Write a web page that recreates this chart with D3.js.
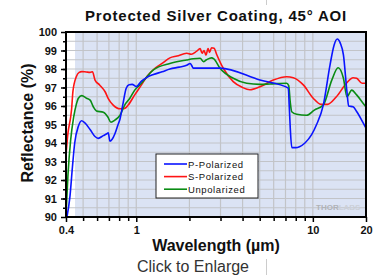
<!DOCTYPE html>
<html>
<meta charset="utf-8">
<script src="https://d3js.org/d3.v7.min.js"></script>
<style>
  body { margin: 0; background: #fff; font-family: "Liberation Sans", Arial, sans-serif; }
</style>
<body>
<div id="chart"></div>
<script>

// wavelength (um) / reflectance (%)
var pWl = [0.405,0.421,0.435,0.448,0.47,0.49,0.51,0.55,0.584,0.609,0.65,0.681,0.694,0.709,0.73,0.757,0.789,0.809,0.844,0.876,0.91,0.948,1.0,1.07,1.15,1.25,1.4,1.55,1.75,1.93,2.02,2.07,2.1,2.19,2.98,5.02,7.26,7.35,7.45,7.6,8.0,8.4,9.02,9.84,10.5,11.46,12.5,13.2,13.75,14.3,14.9,15.6,15.95,16.9,17.7,19,20];
var pR  = [90.0,91.1,92.7,94.0,94.9,95.2,95.1,94.7,94.35,94.25,94.4,94.5,94.55,94.1,94.2,94.5,95.0,95.3,96.2,96.95,97.15,97.17,97.05,97.35,97.55,97.7,97.85,98.0,98.1,98.2,98.3,98.15,98.05,98.05,98.05,97.4,96.97,96.0,94.8,93.75,93.75,93.8,94.0,94.45,95.0,96.05,98.2,99.3,99.62,99.4,98.76,96.77,96.0,95.96,95.7,95.2,94.8];

var sWl = [0.4,0.41,0.425,0.43,0.438,0.458,0.475,0.491,0.52,0.548,0.565,0.584,0.62,0.666,0.694,0.74,0.809,0.86,0.9,0.98,1.07,1.15,1.276,1.4,1.55,1.7,1.93,2.05,2.19,2.3,2.36,2.42,2.48,2.55,2.6,2.67,2.76,2.85,3.11,3.54,4.0,4.4,5.02,5.97,7.11,7.75,8.83,10.05,11.1,12.1,13.6,15.5,16.9,17.7,19,20];
var sR  = [93.35,94.5,95.4,95.8,96.8,97.6,97.82,97.86,97.84,97.82,97.85,97.4,97.14,96.77,96.4,96.05,95.85,95.87,96.05,96.6,97.14,97.6,98.04,98.3,98.6,98.7,98.85,98.8,98.95,99.1,98.85,99.0,98.75,99.1,98.9,99.15,99.12,98.8,98.04,97.32,97.0,96.88,97.04,97.4,97.58,97.53,97.14,96.42,96.09,96.09,96.5,97.23,97.53,97.5,97.23,97.23];

var uWl = [0.4,0.41,0.425,0.442,0.458,0.47,0.491,0.523,0.548,0.571,0.595,0.651,0.689,0.719,0.757,0.809,0.86,0.92,0.98,1.07,1.25,1.55,1.93,2.1,2.3,2.4,2.5,2.67,2.75,2.98,3.54,4.22,5.02,5.7,7.11,7.3,7.45,7.59,8.1,9.2,10.2,11.46,12.8,13.9,14.9,15.6,16.6,17.7,19.6,20];
var uR  = [90.1,92.2,94.16,95.4,96.1,96.42,96.56,96.42,96.32,95.96,95.73,95.66,95.42,95.12,95.24,95.5,96.05,96.42,96.86,97.23,97.95,98.3,98.49,98.55,98.58,98.4,98.5,98.6,98.55,98.04,97.5,97.23,97.17,97.19,97.23,97.1,96.2,95.69,95.55,95.5,95.78,96.05,97.4,98.07,97.5,96.5,96.86,96.6,96.05,95.95];

var seriesNames = ["P-Polarized", "S-Polarized", "Unpolarized"];
var seriesColors = ["#0a14ff", "#ff1414", "#0a8c14"];

var yMajor = [90,91,92,93,94,95,96,97,98,99,100];
var xLabels = [0.4, 1, 10, 20];
var xMinor = [0.5,0.6,0.7,0.8,0.9,2,3,4,5,6,7,8,9];

var margin = {top: 32, right: 17, bottom: 58, left: 66},
    width = 383 - margin.left - margin.right,
    height = 275 - margin.top - margin.bottom;

var root = d3.select("#chart")
  .append("svg")
    .attr("width", 383)
    .attr("height", 275);

var svg = root.append("g")
    .attr("transform", "translate(" + margin.left + "," + margin.top + ")");

var x = d3.scaleLog().domain([0.4, 20]).range([0, width]);
var y = d3.scaleLinear().domain([90, 100]).range([height, 0]);

// plot background
svg.append("rect")
  .attr("width", width).attr("height", height).attr("fill", "#fff");
svg.append("rect")
  .attr("x", x(0.45)).attr("width", width - x(0.45))
  .attr("height", height).attr("fill", "#dbe3f4");

// grid
var yGrid = d3.range(90.5, 100, 0.5);
svg.selectAll("hgrid").data(yGrid).enter().append("line")
  .attr("x1", 0).attr("x2", width)
  .attr("y1", function(d) { return y(d); }).attr("y2", function(d) { return y(d); })
  .attr("stroke", "#c2c4c8").attr("stroke-width", 1);
svg.selectAll("vgrid").data(xMinor.concat([1, 10])).enter().append("line")
  .attr("x1", function(d) { return x(d); }).attr("x2", function(d) { return x(d); })
  .attr("y1", 0).attr("y2", height)
  .attr("stroke", "#c2c4c8").attr("stroke-width", 1.2);

// watermark
var wm = svg.append("text")
  .attr("x", 250).attr("y", 178)
  .style("font-size", "8px").style("font-weight", "bold");
wm.append("tspan").attr("fill", "#b0b2b6").text("THOR");
wm.append("tspan").attr("fill", "#ccd0d8").text("LABS");

// curves
var clip = svg.append("clipPath").attr("id", "clip")
  .append("rect").attr("width", width).attr("height", height);

var line = d3.line()
  .x(function(d) { return x(d[0]); })
  .y(function(d) { return y(d[1]); })
  .curve(d3.curveMonotoneX);

var series = [
  d3.zip(pWl, pR),
  d3.zip(sWl, sR),
  d3.zip(uWl, uR)
];
[1, 2, 0].forEach(function(i) {
  svg.append("path")
    .datum(series[i])
    .attr("clip-path", "url(#clip)")
    .attr("fill", "none")
    .attr("stroke", seriesColors[i])
    .attr("stroke-width", 1.6)
    .attr("d", line);
});

// frame
svg.append("rect")
  .attr("width", width).attr("height", height)
  .attr("fill", "none").attr("stroke", "#000").attr("stroke-width", 2);

// axes
var yAxis = svg.append("g")
  .call(d3.axisLeft(y).tickValues(yMajor).tickSize(5).tickPadding(4).tickFormat(d3.format("d")));
var yMinorAxis = svg.append("g")
  .call(d3.axisLeft(y).tickValues(yGrid).tickSize(3).tickFormat(""));
var xAxis = svg.append("g")
  .attr("transform", "translate(0," + height + ")")
  .call(d3.axisBottom(x).tickValues(xLabels).tickSize(5).tickPadding(4).tickFormat(function(d) { return d; }));
var xMinorAxis = svg.append("g")
  .attr("transform", "translate(0," + height + ")")
  .call(d3.axisBottom(x).tickValues(xMinor).tickSize(4).tickFormat(""));

[yAxis, yMinorAxis, xAxis, xMinorAxis].forEach(function(a) {
  a.select(".domain").remove();
  a.selectAll("line").attr("stroke", "#000").attr("stroke-width", 1.5);
  a.selectAll("text")
    .style("font-family", "'Liberation Sans', Arial, sans-serif")
    .style("font-size", "11px")
    .style("font-weight", "bold")
    .attr("fill", "#111");
});

// legend
var lg = svg.append("g").attr("transform", "translate(" + (156 - margin.left) + "," + (154 - margin.top) + ")");
lg.append("rect")
  .attr("width", 102).attr("height", 44)
  .attr("fill", "#fff").attr("stroke", "#222").attr("stroke-width", 1);
seriesNames.forEach(function(n, i) {
  lg.append("line")
    .attr("x1", 8).attr("x2", 31)
    .attr("y1", 10 + i * 12.6).attr("y2", 10 + i * 12.6)
    .attr("stroke", seriesColors[i]).attr("stroke-width", 1.6);
  lg.append("text")
    .attr("x", 32).attr("y", 13.5 + i * 12.6)
    .style("font-size", "9.5px")
    .style("letter-spacing", "0.6px")
    .attr("fill", "#111")
    .text(n);
});

// titles
root.append("text")
  .attr("x", 216).attr("y", 21)
  .attr("text-anchor", "middle")
  .style("font-size", "15px").style("font-weight", "bold")
  .style("letter-spacing", "0.8px")
  .attr("fill", "#111")
  .text("Protected Silver Coating, 45° AOI");

root.append("text")
  .attr("x", 216).attr("y", 251)
  .attr("text-anchor", "middle")
  .style("font-size", "16px").style("font-weight", "bold")
  .attr("fill", "#111")
  .text("Wavelength (µm)");

root.append("text")
  .attr("transform", "translate(33,123)rotate(-90)")
  .attr("text-anchor", "middle")
  .style("font-size", "16px").style("font-weight", "bold")
  .attr("fill", "#111")
  .text("Reflectance (%)");

root.append("text")
  .attr("x", 193).attr("y", 272)
  .attr("text-anchor", "middle")
  .style("font-size", "16px")
  .attr("fill", "#333")
  .text("Click to Enlarge");

root.append("line")
  .attr("x1", 266.5).attr("x2", 266.5).attr("y1", 259).attr("y2", 275)
  .attr("stroke", "#ccc").attr("stroke-width", 1);
root.append("line")
  .attr("x1", 266.5).attr("x2", 266.5).attr("y1", 0).attr("y2", 5)
  .attr("stroke", "#ccc").attr("stroke-width", 1);

</script>
</body>
</html>
